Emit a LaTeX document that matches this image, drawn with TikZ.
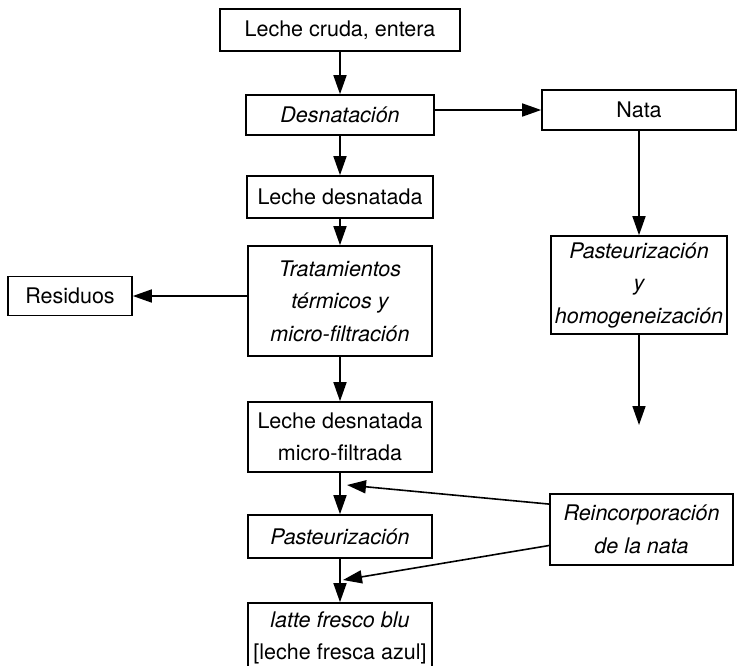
\documentclass[tikz,border=0pt]{standalone}
\usepackage{fontspec}
\setmainfont{TeX Gyre Heros}
\usetikzlibrary{arrows.meta,calc}

\tikzset{
  box/.style={draw, line width=1.6pt, rectangle, inner sep=0pt, align=center,
              font=\fontsize{21.5}{32.5}\selectfont},
  arr/.style={line width=1.6pt, -{Triangle[length=19pt,width=13pt]}},
}

\begin{document}
\begin{tikzpicture}[x=1pt,y=-1pt]
\useasboundingbox (0,0) rectangle (741,665);

% main column
\node[box, minimum width=240pt, minimum height=42pt] (raw)   at (340,30)    {Leche cruda, entera};
\node[box, minimum width=188pt, minimum height=40pt] (desn)  at (340,115)   {\itshape Desnatación};
\node[box, minimum width=186pt, minimum height=42pt] (skim)  at (340,197)   {Leche desnatada};
\node[box, minimum width=184pt, minimum height=110pt] (trat) at (340,301)   {\itshape Tratamientos\\\itshape térmicos y\\\itshape micro-filtración};
\node[box, minimum width=184pt, minimum height=70pt] (micro) at (340,437)   {Leche desnatada\\micro-filtrada};
\node[box, minimum width=184pt, minimum height=43pt] (past)  at (340,536.5) {\itshape Pasteurización};
\node[box, minimum width=184pt, minimum height=70pt] (latte) at (340,638)
  {\itshape latte fresco blu\\{[leche fresca azul]}};

% side boxes
\node[box, minimum width=124pt, minimum height=39pt] (res)   at (70,296)    {Residuos};
\node[box, minimum width=194pt, minimum height=40pt] (nata)  at (639,110)   {Nata};
\node[box, minimum width=176pt, minimum height=98pt] (ph)    at (639,285)   {\itshape Pasteurización\\\itshape y\\\itshape homogeneización};
\node[box, minimum width=183pt, minimum height=71pt] (reinc) at (641.5,529.5) {\itshape Reincorporación\\\itshape de la nata};

% free ends of connectors
\coordinate (phend) at (639,425);
\coordinate (join1) at (347,485);
\coordinate (join2) at (343,580);

% connectors
\draw[arr] (raw) -- (desn);
\draw[arr] (desn) -- (skim);
\draw[arr] (skim) -- (trat);
\draw[arr] (trat) -- (micro);
\draw[arr] (micro) -- (past);
\draw[arr] (past) -- (latte);
\draw[arr] (nata.west -| desn.east) -- (nata.west);
\draw[arr] (nata) -- (ph);
\draw[arr] (ph.south) -- (phend);
\draw[arr] (res.east -| trat.west) -- (res.east);
\draw[arr] ($(reinc.north west)!0.15!(reinc.south west)$) -- (join1);
\draw[arr] ($(reinc.north west)!0.72!(reinc.south west)$) -- (join2);
\end{tikzpicture}
\end{document}
